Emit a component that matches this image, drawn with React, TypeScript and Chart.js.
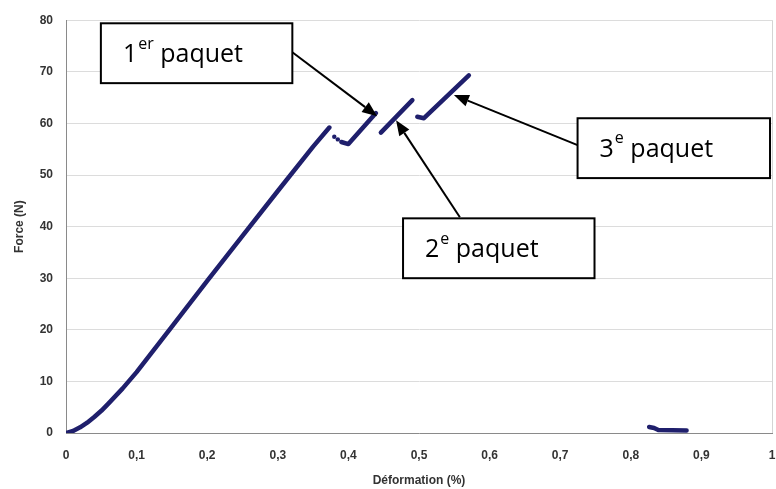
import { useEffect, useRef } from 'react';
import { Chart, registerables } from 'chart.js';

Chart.register(...registerables);

// ---- Data ----
const xTickLabels = ['0', '0,1', '0,2', '0,3', '0,4', '0,5', '0,6', '0,7', '0,8', '0,9', '1'];
const yTickLabels = ['0', '10', '20', '30', '40', '50', '60', '70', '80'];

const mainStrain = [0, 0.01, 0.02, 0.03, 0.04, 0.05, 0.06, 0.08, 0.1, 0.15, 0.2, 0.25, 0.3, 0.35, 0.373];
const mainForce = [0, 0.4, 1.1, 2.0, 3.1, 4.3, 5.7, 8.6, 11.8, 20.6, 29.5, 38.2, 46.9, 55.5, 59.2];

const dotStrain = [0.38, 0.385];
const dotForce = [57.4, 56.9];

const packet1Strain = [0.39, 0.4, 0.439];
const packet1Force = [56.4, 56.0, 62.0];

const packet2Strain = [0.446, 0.4906];
const packet2Force = [58.2, 64.5];

const packet3Strain = [0.4976, 0.507, 0.5706];
const packet3Force = [61.3, 61.0, 69.3];

const tailStrain = [0.826, 0.833, 0.839, 0.879];
const tailForce = [1.16, 0.97, 0.58, 0.48];

// annotations (data coordinates)
const labelNumbers = ['1', '2', '3'];
const labelSuperscripts = ['er', 'e', 'e'];
const boxLeft = [0.0494, 0.4774, 0.7246];
const boxRight = [0.3206, 0.7486, 0.9972];
const boxTop = [79.4, 41.6, 61.0];
const boxBottom = [67.8, 30.0, 49.4];
const arrowFromX = [0.3206, 0.5579, 0.7246];
const arrowFromY = [73.8, 41.8, 55.8];
const arrowToX = [0.4407, 0.4675, 0.5494];
const arrowToY = [61.4, 60.6, 65.5];

const NAVY = '#1f1f6c';
const toPts = (xs: number[], ys: number[]) => xs.map((x, i) => ({ x, y: ys[i] }));

const lineDs = (label: string, xs: number[], ys: number[]) => ({
  label,
  data: toPts(xs, ys),
  showLine: true,
  borderColor: NAVY,
  backgroundColor: NAVY,
  borderWidth: 4.5,
  pointRadius: 0,
  borderCapStyle: 'round' as const,
  borderJoinStyle: 'round' as const,
});

const annotationPlugin = {
  id: 'paquets',
  afterDraw(chart: any) {
    const { ctx } = chart;
    const xs = chart.scales.x;
    const ys = chart.scales.y;
    ctx.save();
    for (let i = 0; i < labelNumbers.length; i++) {
      const fx = xs.getPixelForValue(arrowFromX[i]);
      const fy = ys.getPixelForValue(arrowFromY[i]);
      const tx = xs.getPixelForValue(arrowToX[i]);
      const ty = ys.getPixelForValue(arrowToY[i]);
      const ang = Math.atan2(ty - fy, tx - fx);
      const headLen = 15;
      const headW = 6;
      const bx = tx - headLen * Math.cos(ang);
      const by = ty - headLen * Math.sin(ang);
      ctx.strokeStyle = '#000';
      ctx.lineWidth = 2;
      ctx.beginPath();
      ctx.moveTo(fx, fy);
      ctx.lineTo(bx, by);
      ctx.stroke();
      ctx.fillStyle = '#000';
      ctx.beginPath();
      ctx.moveTo(tx, ty);
      ctx.lineTo(bx + headW * Math.sin(ang), by - headW * Math.cos(ang));
      ctx.lineTo(bx - headW * Math.sin(ang), by + headW * Math.cos(ang));
      ctx.closePath();
      ctx.fill();

      const l = xs.getPixelForValue(boxLeft[i]);
      const r = xs.getPixelForValue(boxRight[i]);
      const t = ys.getPixelForValue(boxTop[i]);
      const b = ys.getPixelForValue(boxBottom[i]);
      ctx.fillStyle = '#fff';
      ctx.fillRect(l, t, r - l, b - t);
      ctx.strokeStyle = '#000';
      ctx.lineWidth = 2;
      ctx.strokeRect(l, t, r - l, b - t);

      const baseline = (t + b) / 2 + 8.7;
      let cx = l + 22;
      ctx.fillStyle = '#000';
      ctx.textBaseline = 'alphabetic';
      ctx.textAlign = 'left';
      ctx.font = '25px "Open Sans"';
      ctx.fillText(labelNumbers[i], cx, baseline);
      cx += ctx.measureText(labelNumbers[i]).width + 1;
      ctx.font = '16px "Open Sans"';
      ctx.fillText(labelSuperscripts[i], cx, baseline - 13.4);
      cx += ctx.measureText(labelSuperscripts[i]).width;
      ctx.font = '25px "Open Sans"';
      ctx.fillText(' paquet', cx, baseline);
    }
    ctx.restore();
  },
};

export default function App() {
  const canvasRef = useRef<HTMLCanvasElement | null>(null);

  useEffect(() => {
    if (!canvasRef.current) return;
    const tickFont = { family: '"Liberation Sans", Arial, sans-serif', size: 12, weight: 'bold' as const };
    const chart = new Chart(canvasRef.current, {
      type: 'scatter',
      data: {
        datasets: [
          lineDs('main', mainStrain, mainForce),
          {
            label: 'dots',
            data: toPts(dotStrain, dotForce),
            showLine: false,
            pointRadius: 2.2,
            pointBackgroundColor: NAVY,
            pointBorderWidth: 0,
            borderColor: NAVY,
          } as any,
          lineDs('p1', packet1Strain, packet1Force),
          lineDs('p2', packet2Strain, packet2Force),
          lineDs('p3', packet3Strain, packet3Force),
          lineDs('tail', tailStrain, tailForce),
        ],
      },
      options: {
        animation: false,
        responsive: true,
        maintainAspectRatio: false,
        layout: { padding: { left: 0, right: 3, top: 20, bottom: 0 } },
        plugins: { legend: { display: false }, tooltip: { enabled: false } },
        scales: {
          x: {
            type: 'linear',
            min: 0,
            max: 1,
            ticks: {
              stepSize: 0.1,
              padding: 15,
              color: '#333',
              font: tickFont,
              maxRotation: 0,
              autoSkip: false,
              callback: (_v: any, i: number) => xTickLabels[i],
            },
            grid: {
              drawTicks: false,
              color: (c: any) => (c.tick && Math.abs(c.tick.value - 1) < 1e-6 ? '#d4d4d4' : 'rgba(0,0,0,0)'),
            },
            border: { display: true, color: '#8a8a8a', width: 1 },
            title: {
              display: true,
              text: 'Déformation (%)',
              color: '#333',
              font: tickFont,
              padding: { top: 0, bottom: 1 },
            },
            afterFit: (s: any) => {
              s.height = 56;
              s.paddingLeft = 0;
              s.paddingRight = 0;
            },
          },
          y: {
            type: 'linear',
            min: 0,
            max: 80,
            ticks: {
              stepSize: 10,
              padding: 13,
              color: '#333',
              font: tickFont,
              callback: (_v: any, i: number) => yTickLabels[i],
            },
            grid: { drawTicks: false, color: '#dcdcdc' },
            border: { display: true, color: '#8a8a8a', width: 1 },
            title: {
              display: true,
              text: 'Force (N)',
              color: '#333',
              font: tickFont,
              padding: { top: 12, bottom: 0 },
            },
            afterFit: (s: any) => {
              s.width = 66;
            },
          },
        },
      },
      plugins: [annotationPlugin],
    });
    return () => chart.destroy();
  }, []);

  return (
    <div style={{ position: 'fixed', left: 0, top: 0, width: 776, height: 489, background: '#fff' }}>
      <canvas ref={canvasRef} />
    </div>
  );
}
